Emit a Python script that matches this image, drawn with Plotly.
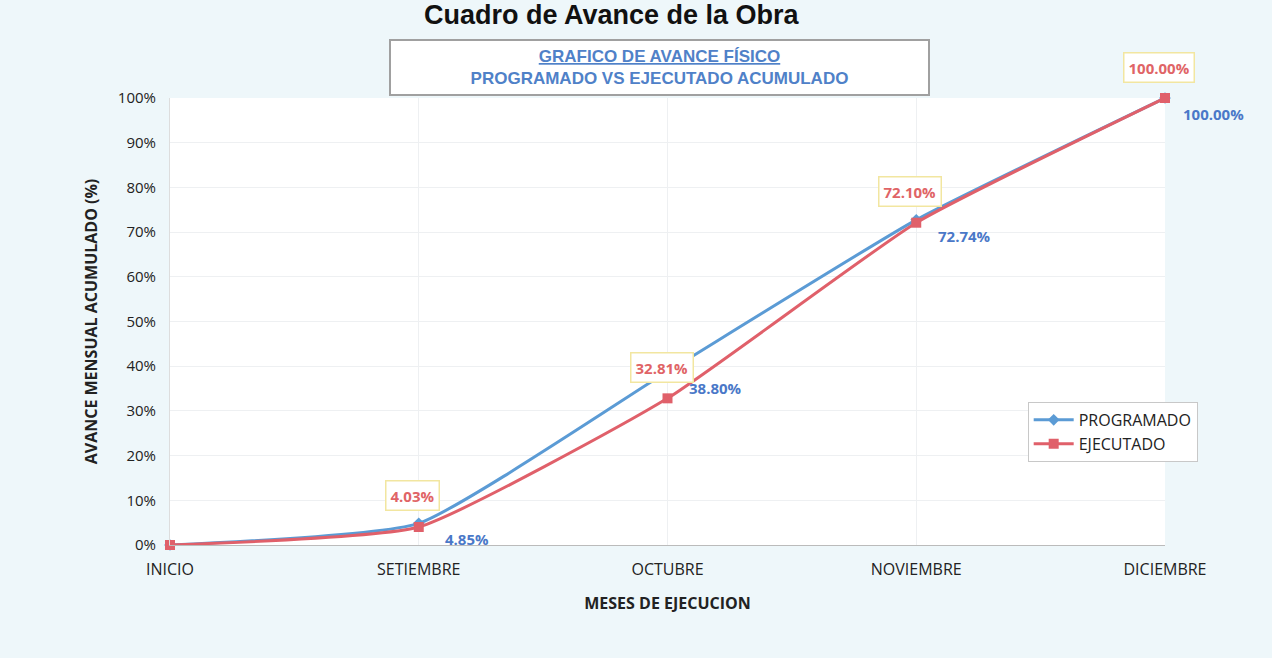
import plotly.graph_objects as go

categories = ["INICIO", "SETIEMBRE", "OCTUBRE", "NOVIEMBRE", "DICIEMBRE"]
programado = [0.0, 4.85, 38.80, 72.74, 100.00]
ejecutado = [0.0, 4.03, 32.81, 72.10, 100.00]
y_ticks = [0, 10, 20, 30, 40, 50, 60, 70, 80, 90, 100]

BLUE = "#5b9bd5"
RED = "#e0606a"
BLUE_TXT = "#4a78c8"
RED_TXT = "#e06466"
FONT = "Open Sans, Noto Sans, sans-serif"

fig = go.Figure()
fig.add_trace(go.Scatter(
    x=categories, y=[v / 100 for v in programado], name="PROGRAMADO",
    mode="lines+markers", line=dict(color=BLUE, width=3, shape="spline", smoothing=0.45),
    marker=dict(symbol="diamond", size=9, color=BLUE), cliponaxis=False))
fig.add_trace(go.Scatter(
    x=categories, y=[v / 100 for v in ejecutado], name="EJECUTADO",
    mode="lines+markers", line=dict(color=RED, width=3, shape="spline", smoothing=0.45),
    marker=dict(symbol="square", size=10, color=RED), cliponaxis=False))

ann = []
for i, (c, p, e) in enumerate(zip(categories, programado, ejecutado)):
    if i == 0:
        continue
    ann.append(dict(x=c, y=e / 100, xref="x", yref="y", text=f"{e:.2f}%",
                    showarrow=False, yshift=31, xshift=-6,
                    font=dict(family=FONT, size=15, color=RED_TXT, weight="bold"),
                    bgcolor="#ffffff", bordercolor="#f2e6a0", borderwidth=1.5, borderpad=4))
    ann.append(dict(x=c, y=p / 100, xref="x", yref="y", text=f"{p:.2f}%",
                    showarrow=False, yshift=-16, xshift=48,
                    font=dict(family=FONT, size=15, color=BLUE_TXT, weight="bold")))

# titles
ann.append(dict(x=0.444, y=1.186, xref="paper", yref="paper", xanchor="center", yanchor="middle",
                text="<b>Cuadro de Avance de la Obra</b>", showarrow=False,
                font=dict(family="Liberation Sans, Arial, sans-serif", size=27, color="#111111")))
ann.append(dict(x=0.492, y=1.068, xref="paper", yref="paper", xanchor="center", yanchor="middle",
                text="<b><u>GRAFICO DE AVANCE FÍSICO</u></b><br><b>PROGRAMADO VS EJECUTADO ACUMULADO</b>",
                showarrow=False, align="center",
                font=dict(family="Liberation Sans, Arial, sans-serif", size=17, color="#4f81c8"),
                bgcolor="#ffffff", bordercolor="#a0a0a0", borderwidth=2, borderpad=6,
                width=525))

fig.update_layout(
    width=1272, height=658,
    paper_bgcolor="#eef7fa", plot_bgcolor="#ffffff",
    margin=dict(l=170, r=107, t=98, b=113),
    font=dict(family=FONT, size=14, color="#333333"),
    annotations=ann,
    showlegend=True,
    legend=dict(x=0.862, y=0.32, xanchor="left", yanchor="top",
                bgcolor="#ffffff", bordercolor="#c8c8c8", borderwidth=1,
                font=dict(family=FONT, size=16, color="#222222"),
                itemwidth=40, tracegroupgap=6),
    xaxis=dict(type="category", range=[0, 4], showgrid=True, gridcolor="#eef0f2",
               showline=True, linecolor="#bbbbbb", ticks="", ticklabelstandoff=10,
               tickfont=dict(family=FONT, size=16, color="#222222"),
               title=dict(text="<b>MESES DE EJECUCION</b>", standoff=18,
                          font=dict(family=FONT, size=16, color="#222222"))),
    yaxis=dict(range=[0, 1.0], tickvals=[v / 100 for v in y_ticks],
               ticktext=[f"{v}%" for v in y_ticks], showgrid=True, gridcolor="#eef0f2",
               zeroline=False, showline=True, linecolor="#dddddd", ticks="",
               ticklabelstandoff=10,
               tickfont=dict(family=FONT, size=15, color="#222222"),
               title=dict(text="<b>AVANCE MENSUAL ACUMULADO (%)</b>", standoff=16,
                          font=dict(family=FONT, size=16, color="#222222"))),
)

fig.write_html("out.html", config={"displayModeBar": False},
               post_script="document.body.style.margin='0';")
